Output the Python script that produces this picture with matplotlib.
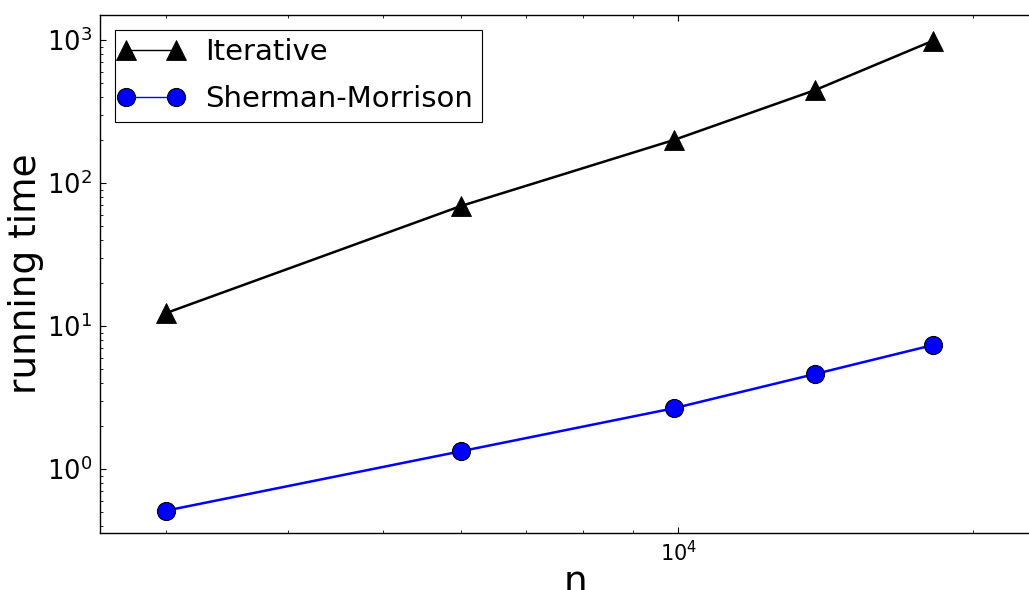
import matplotlib
matplotlib.use("Agg")
import matplotlib.pyplot as plt
from matplotlib.legend_handler import HandlerLine2D
from matplotlib.ticker import NullFormatter

# problem size and measured running times
n_values = [3000, 6000, 9900, 13800, 18200]
iterative_times = [12.3, 69, 200, 447, 989]
sherman_morrison_times = [0.511, 1.33, 2.66, 4.62, 7.36]

fig = plt.figure(figsize=(10.29, 5.90), dpi=100)
ax = fig.add_axes([0.0972, 0.0961, 0.924, 0.8785])

iter_line, = ax.loglog(n_values, iterative_times, color="black", linewidth=1.8,
                       marker="^", markersize=14, markeredgecolor="black",
                       markeredgewidth=0.6, label="Iterative")
sm_line, = ax.loglog(n_values, sherman_morrison_times, color="blue", linewidth=1.8,
                     marker="o", markersize=13, markerfacecolor="blue",
                     markeredgecolor="black", markeredgewidth=0.8,
                     label="Sherman-Morrison")

ax.set_xlim(2570, 24000)
ax.set_ylim(0.355, 1496)
ax.xaxis.set_minor_formatter(NullFormatter())
ax.yaxis.set_minor_formatter(NullFormatter())

ax.tick_params(which="both", direction="in", top=True, right=True)
ax.tick_params(which="major", length=4, width=0.8)
ax.tick_params(which="minor", length=2, width=0.6)
ax.tick_params(axis="y", which="major", labelsize=18.5, pad=6)
ax.tick_params(axis="x", which="major", labelsize=15, pad=5)
for spine in ax.spines.values():
    spine.set_linewidth(1.0)

ax.set_xlabel("n", fontsize=27, labelpad=0)
ax.set_ylabel("running time", fontsize=27, labelpad=2)

# markers sit near the ends of each legend handle
handler = HandlerLine2D(numpoints=2, marker_pad=0.1)
leg = ax.legend(loc="upper left", fontsize=21,
                handler_map={iter_line: handler, sm_line: handler},
                handlelength=1.9, handletextpad=0.9, borderpad=0.3,
                labelspacing=0.65, borderaxespad=0.5, fancybox=False,
                framealpha=1.0, edgecolor="black")
leg.get_frame().set_linewidth(0.8)
for line in leg.get_lines():
    line.set_linewidth(1.0)

fig.savefig("out.png", dpi=100)
